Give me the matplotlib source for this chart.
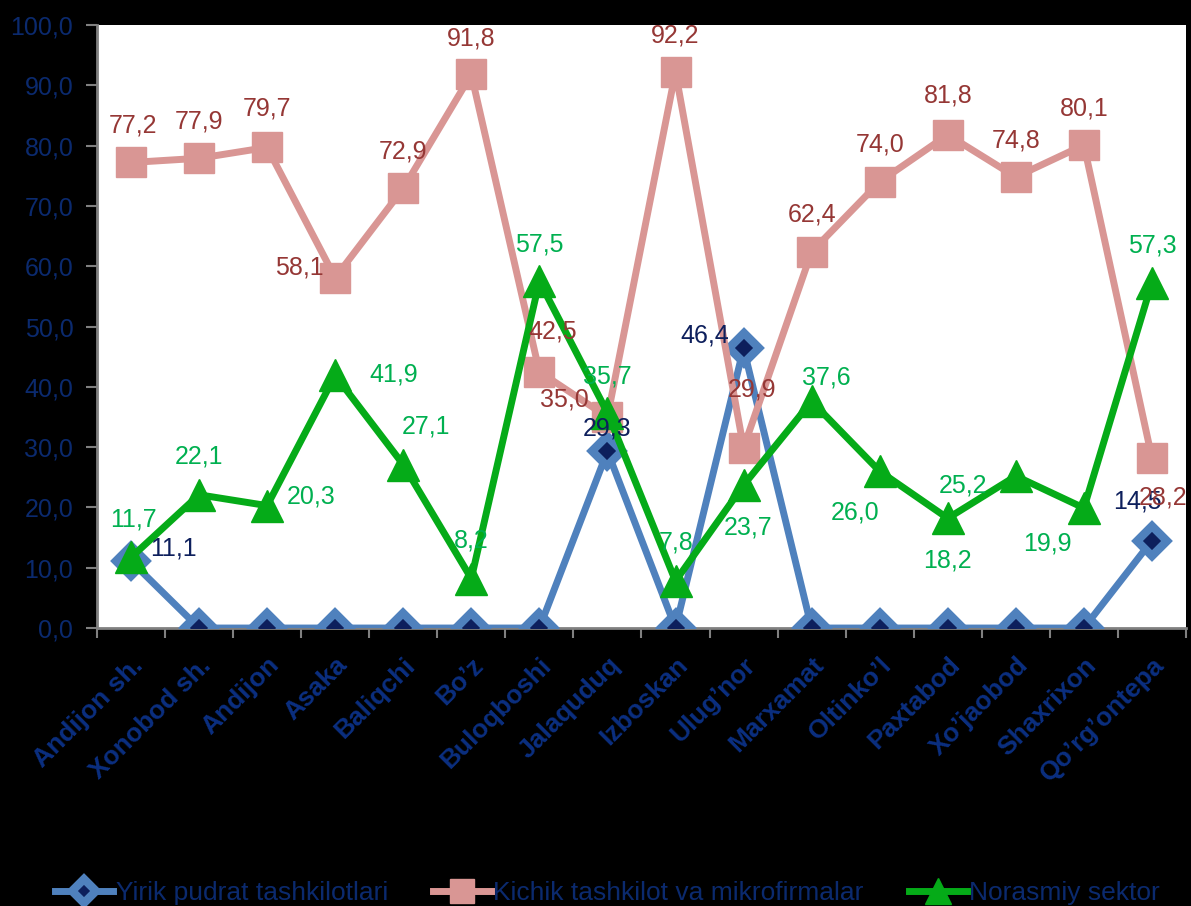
import matplotlib.pyplot as plt

plt.rcParams['font.family'] = ['Liberation Sans', 'DejaVu Sans']

districts = ['Andijon sh.', 'Xonobod sh.', 'Andijon', 'Asaka', 'Baliqchi', 'Bo\u2019z',
             'Buloqboshi', 'Jalaquduq', 'Izboskan', 'Ulug\u2019nor', 'Marxamat',
             'Oltinko\u2019l', 'Paxtabod', 'Xo\u2019jaobod', 'Shaxrixon', 'Qo\u2019rg\u2019ontepa']

yirik = [11.1, 0, 0, 0, 0, 0, 0, 29.3, 0, 46.4, 0, 0, 0, 0, 0, 14.5]
kichik = [77.2, 77.9, 79.7, 58.1, 72.9, 91.8, 42.5, 35.0, 92.2, 29.9, 62.4, 74.0, 81.8, 74.8, 80.1, 28.2]
norasmiy = [11.7, 22.1, 20.3, 41.9, 27.1, 8.2, 57.5, 35.7, 7.8, 23.7, 37.6, 26.0, 18.2, 25.2, 19.9, 57.3]

series_names = ['Yirik pudrat tashkilotlari', 'Kichik tashkilot va mikrofirmalar', 'Norasmiy sektor']

# label offsets in pixels (dx, dy), None = no label
off_yirik = [(42, 13), None, None, None, None, None, None, (0, 23), None, (-39, 13),
             None, None, None, None, None, (-15, 39)]
off_kichik = [(2, 37), (0, 37), (0, 39), (-36, 10), (0, 37), (0, 36), (13, 40), (-43, 17),
              (0, 37), (8, 58), (0, 37), (0, 37), (0, 39), (0, 36), (0, 37), (11, -40)]
off_noras = [(2, 38), (0, 38), (44, 9), (59, 1), (23, 38), (0, 38), (0, 37), (0, 36),
             (1, 39), (4, -42), (15, 24), (-25, -41), (0, -42), (-53, -9), (-37, -35), (0, 37)]

navy = '#0B2A6E'
fig = plt.figure(figsize=(11.91, 9.06), dpi=100, facecolor='black')
ax = fig.add_axes([0.0814, 0.3068, 0.9144, 0.6656])
ax.set_facecolor('white')

x = list(range(len(districts)))
ax.plot(x, yirik, color='#4F81BD', lw=5, marker='D', ms=15, mfc='#0D1F5C',
        mec='#4F81BD', mew=6, label=series_names[0], zorder=3)
ax.plot(x, kichik, color='#D99694', lw=5, marker='s', ms=22, mfc='#D99694',
        mec='#D99694', label=series_names[1], zorder=4)
ax.plot(x, norasmiy, color='#05AB18', lw=5, marker='^', ms=23, mfc='#05AB18',
        mec='#05AB18', label=series_names[2], zorder=5)

def put_labels(vals, offs, color):
    for i, (v, o) in enumerate(zip(vals, offs)):
        if o is None:
            continue
        ax.annotate(f'{v:.1f}'.replace('.', ','), (i, v), xytext=(o[0] * 0.72, o[1] * 0.72),
                    textcoords='offset points', ha='center', va='center',
                    fontsize=18, color=color, zorder=10)

put_labels(yirik, off_yirik, '#0D1F5C')
put_labels(kichik, off_kichik, '#953735')
put_labels(norasmiy, off_noras, '#00B050')

ax.set_xlim(-0.5, len(districts) - 0.5)
ax.set_ylim(0, 100)
ax.set_yticks(range(0, 101, 10))
ax.set_yticklabels([f'{t:.1f}'.replace('.', ',') for t in range(0, 101, 10)],
                   fontsize=18, color=navy)
ax.set_xticks(x)
ax.set_xticks([i - 0.5 for i in range(len(districts) + 1)], minor=True)
ax.set_xticklabels(districts, rotation=45, ha='right', rotation_mode='anchor',
                   fontsize=19, fontweight='bold', color='#0B2F80')
ax.tick_params(axis='x', which='major', length=0, pad=18)
ax.tick_params(axis='x', which='minor', length=7, color='#808080', width=1.5)
ax.tick_params(axis='y', length=8, color='#808080', width=1.5, pad=9)

for side in ['top', 'right']:
    ax.spines[side].set_visible(False)
for side in ['left', 'bottom']:
    ax.spines[side].set_color('#808080')
    ax.spines[side].set_linewidth(2)

leg = fig.legend(loc='lower center', bbox_to_anchor=(0.51, -0.025), ncol=3, frameon=False,
                 fontsize=19, handlelength=2.2, handletextpad=0.1, columnspacing=1.7,
                 labelcolor=navy, markerscale=0.8)

fig.savefig('out.png', dpi=100, facecolor='black')
